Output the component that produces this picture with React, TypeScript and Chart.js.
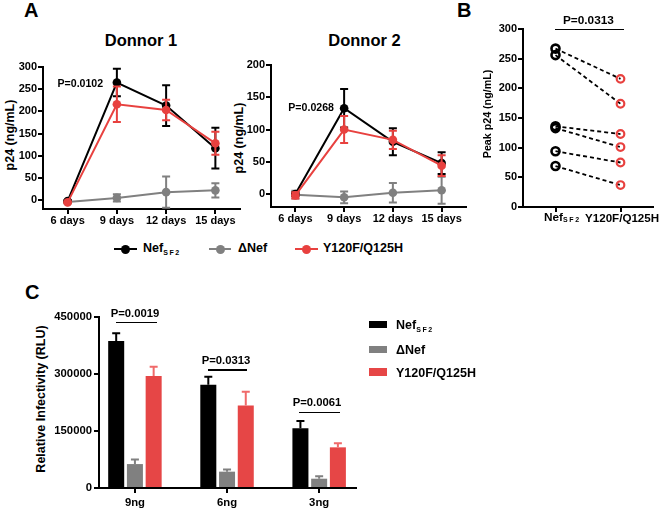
import React, { useEffect, useRef } from 'react';
import { Chart, registerables } from 'chart.js';

Chart.register(...registerables);

// ---------- Data ----------
const DAYS = ['6 days', '9 days', '12 days', '15 days'];
const D1_Y_TICKS = [0, 50, 100, 150, 200, 250, 300];
const D2_Y_TICKS = [0, 50, 100, 150, 200];

const D1_NEF = [-2, 265, 213, 117];
const D1_NEF_ERR = [2, 31, 46, 46];
const D1_DNEF = [-4, 5, 18, 22];
const D1_DNEF_ERR = [3, 8, 35, 16];
const D1_MUT = [-5, 216, 203, 128];
const D1_MUT_ERR = [2, 40, 23, 26];

const D2_NEF = [0, 133, 81, 48];
const D2_NEF_ERR = [3, 30, 21, 17];
const D2_DNEF = [-1, -5, 2, 6];
const D2_DNEF_ERR = [6, 9, 15, 21];
const D2_MUT = [-2, 100, 84, 44];
const D2_MUT_ERR = [5, 21, 14, 16];

const B_CATS = ['Nef', 'Y120F/Q125H'];
const B_NEF = [267, 256, 136, 133, 94, 69];
const B_MUT = [216, 174, 123, 101, 75, 37];
const B_Y_TICKS = [0, 50, 100, 150, 200, 250, 300];

const C_CATS = ['9ng', '6ng', '3ng'];
const C_NEF = [387000, 272000, 157000];
const C_NEF_ERR = [20000, 21000, 19000];
const C_DNEF = [63000, 43000, 24500];
const C_DNEF_ERR = [12000, 6000, 6500];
const C_MUT = [295000, 217000, 107000];
const C_MUT_ERR = [24000, 36000, 10500];
const C_Y_TICKS = [0, 150000, 300000, 450000];

// ---------- Styles ----------
const FONT = "'Liberation Sans', Arial, Helvetica, sans-serif";
const BLACK = '#000000';
const GRAY = '#808080';
const RED = '#e8413f';
const RED_BAR = '#e64646';
const RED_ERR = '#f06a6a';

const errPlugin = {
  id: 'errbars',
  afterDatasetDraw(chart: any, args: any) {
    const ds = chart.data.datasets[args.index] as any;
    if (!ds.errors) return;
    const ys = chart.scales.y;
    const ctx = chart.ctx;
    ctx.save();
    ctx.strokeStyle = ds.errColor || ds.borderColor;
    ctx.lineWidth = ds.errWidth ?? 2;
    args.meta.data.forEach((el: any, i: number) => {
      const raw = ds.data[i];
      const v = typeof raw === 'number' ? raw : raw.y;
      const e = ds.errors[i];
      const x = el.x;
      const top = ys.getPixelForValue(v + e);
      const bot = ds.errDir === 'up' ? ys.getPixelForValue(v) : ys.getPixelForValue(v - e);
      const hw = ds.capHalf ?? 4;
      ctx.beginPath();
      ctx.moveTo(x, top);
      ctx.lineTo(x, bot);
      ctx.moveTo(x - hw, top);
      ctx.lineTo(x + hw, top);
      if (ds.errDir !== 'up') {
        ctx.moveTo(x - hw, bot);
        ctx.lineTo(x + hw, bot);
      }
      ctx.stroke();
    });
    ctx.restore();
  },
};

function yAxis(min: number, max: number, ticks: number[], w: number, fs: number, pad: number) {
  return {
    type: 'linear',
    min,
    max,
    afterBuildTicks: (s: any) => {
      s.ticks = ticks.map((v) => ({ value: v }));
    },
    afterFit: (s: any) => {
      s.width = w;
      s.paddingTop = 0;
      s.paddingBottom = 0;
    },
    grid: {
      display: true,
      drawOnChartArea: false,
      drawTicks: true,
      tickLength: 5,
      tickWidth: 2,
      tickColor: BLACK,
      color: BLACK,
      lineWidth: 2,
    },
    border: { display: true, color: BLACK, width: 2 },
    ticks: {
      color: BLACK,
      padding: pad,
      autoSkip: false,
      font: { family: FONT, size: fs, weight: 'bold' },
      callback: (v: any) => String(v),
    },
  };
}

function xAxisBase(h: number, fs: number, pad: number, display: boolean) {
  return {
    afterFit: (s: any) => {
      s.height = h;
      s.paddingLeft = 0;
      s.paddingRight = 0;
    },
    grid: {
      display: true,
      drawOnChartArea: false,
      drawTicks: true,
      tickLength: 5,
      tickWidth: 2,
      tickColor: BLACK,
      color: BLACK,
      lineWidth: 2,
      offset: false,
    },
    border: { display: true, color: BLACK, width: 2 },
    ticks: {
      display,
      color: BLACK,
      padding: pad,
      autoSkip: false,
      maxRotation: 0,
      minRotation: 0,
      font: { family: FONT, size: fs, weight: 'bold' },
    },
  };
}

function lineDs(data: number[], err: number[], color: string) {
  return {
    data,
    errors: err,
    errColor: color,
    borderColor: color,
    backgroundColor: color,
    borderWidth: 2,
    pointRadius: 4.3,
    pointBorderWidth: 0,
    pointBackgroundColor: color,
    tension: 0,
    clip: false,
  };
}

function baseOptions(padT: number, padR: number) {
  return {
    responsive: false,
    animation: false,
    devicePixelRatio: 1,
    events: [],
    layout: { padding: { top: padT, right: padR, left: 0, bottom: 0 } },
    plugins: { legend: { display: false }, tooltip: { enabled: false }, title: { display: false } },
  };
}

function donorConfig(nef: number[], nefE: number[], dnef: number[], dnefE: number[], mut: number[], mutE: number[], yMax: number, yTicks: number[]) {
  return {
    type: 'line',
    data: {
      labels: DAYS,
      datasets: [lineDs(mut, mutE, RED), lineDs(nef, nefE, BLACK), lineDs(dnef, dnefE, GRAY)],
    },
    options: {
      ...baseOptions(10, 15),
      scales: {
        x: { type: 'category', offset: true, ...xAxisBase(25, 11, 0, true) },
        y: yAxis(-20, yMax, yTicks, 40, 11, 1),
      },
    },
    plugins: [errPlugin],
  };
}

function bConfig() {
  const datasets = B_NEF.map((v, i) => ({
    data: [v, B_MUT[i]],
    borderColor: BLACK,
    borderWidth: 1.8,
    borderDash: [4, 3],
    pointRadius: [4, 3.8],
    pointBorderWidth: [2.6, 2.2],
    pointBorderColor: [BLACK, RED],
    pointBackgroundColor: 'rgba(0,0,0,0)',
    tension: 0,
    clip: false,
  }));
  return {
    type: 'line',
    data: { labels: B_CATS, datasets },
    options: {
      ...baseOptions(10, 7),
      scales: {
        x: { type: 'category', offset: true, ...xAxisBase(20, 11, 0, false) },
        y: yAxis(0, 300, B_Y_TICKS, 40, 11, 1),
      },
    },
  };
}

function barDs(vals: number[], err: number[], color: string, errColor: string) {
  return {
    data: vals.map((v, i) => ({ x: i, y: v })),
    errors: err,
    errDir: 'up',
    errColor,
    capHalf: 4,
    backgroundColor: color,
    borderWidth: 0,
    categoryPercentage: 0.61,
    barPercentage: 0.855,
  };
}

function cConfig() {
  return {
    type: 'bar',
    data: {
      datasets: [
        barDs(C_NEF, C_NEF_ERR, BLACK, BLACK),
        barDs(C_DNEF, C_DNEF_ERR, GRAY, GRAY),
        barDs(C_MUT, C_MUT_ERR, RED_BAR, RED_ERR),
      ],
    },
    options: {
      ...baseOptions(10, 10),
      scales: {
        x: {
          type: 'linear',
          min: -0.39,
          max: 2.4,
          offset: false,
          afterBuildTicks: (s: any) => {
            s.ticks = C_CATS.map((_, i) => ({ value: i }));
          },
          ...(() => {
            const b: any = xAxisBase(23, 11.3, 3, true);
            b.ticks.callback = (v: any) => C_CATS[Math.round(Number(v))] ?? '';
            return b;
          })(),
        },
        y: yAxis(0, 450000, C_Y_TICKS, 55, 11.3, 2),
      },
    },
    plugins: [errPlugin],
  };
}

function ChartBox({ left, top, width, height, make }: { left: number; top: number; width: number; height: number; make: () => any }) {
  const ref = useRef<HTMLCanvasElement | null>(null);
  useEffect(() => {
    if (!ref.current) return;
    const chart = new Chart(ref.current, make() as any);
    return () => chart.destroy();
  }, []);
  return (
    <canvas
      ref={ref}
      width={width}
      height={height}
      style={{ position: 'absolute', left, top, width, height }}
    />
  );
}

type TP = {
  x: number;
  y: number;
  fs: number;
  align?: 'left' | 'center';
  rot?: boolean;
  children: React.ReactNode;
};

function T({ x, y, fs, align = 'left', rot = false, children }: TP) {
  const style: React.CSSProperties = {
    position: 'absolute',
    fontSize: fs,
    lineHeight: `${fs}px`,
    whiteSpace: 'nowrap',
    left: x,
    top: y - fs / 2,
  };
  if (rot) {
    style.top = y;
    style.transform = 'translate(-50%, -50%) rotate(-90deg)';
  } else if (align === 'center') {
    style.transform = 'translateX(-50%)';
  }
  return <div style={style}>{children}</div>;
}

function Sub({ children, dy }: { children: React.ReactNode; dy: number }) {
  return (
    <span style={{ fontSize: 7, letterSpacing: 1.6, position: 'relative', top: dy }}>{children}</span>
  );
}

function HLine({ x1, x2, y }: { x1: number; x2: number; y: number }) {
  return (
    <div style={{ position: 'absolute', left: x1, top: y - 0.75, width: x2 - x1, height: 1.5, background: BLACK }} />
  );
}

function LegLine({ x1, x2, y, color }: { x1: number; x2: number; y: number; color: string }) {
  const cx = (x1 + x2) / 2;
  return (
    <>
      <div style={{ position: 'absolute', left: x1, top: y - 1, width: x2 - x1, height: 2, background: color }} />
      <div style={{ position: 'absolute', left: cx - 4.5, top: y - 4.5, width: 9, height: 9, borderRadius: '50%', background: color }} />
    </>
  );
}

function LegRect({ x, y, color }: { x: number; y: number; color: string }) {
  return <div style={{ position: 'absolute', left: x, top: y, width: 18, height: 7.5, background: color }} />;
}

export default function App() {
  return (
    <div
      style={{
        position: 'absolute',
        left: 0,
        top: 0,
        width: 660,
        height: 511,
        overflow: 'hidden',
        background: '#ffffff',
        fontFamily: FONT,
        fontWeight: 'bold',
        color: BLACK,
      }}
    >
      {/* Panel A */}
      <T x={24} y={10.3} fs={20}>A</T>
      <T x={141} y={40} fs={16.5} align="center">Donnor 1</T>
      <T x={364.5} y={40} fs={16.5} align="center">Donnor 2</T>
      <T x={10} y={135} fs={12.5} rot>p24 (ng/mL)</T>
      <T x={239} y={138} fs={12.5} rot>p24 (ng/mL)</T>
      <ChartBox
        left={3}
        top={57}
        width={252}
        height={177}
        make={() => donorConfig(D1_NEF, D1_NEF_ERR, D1_DNEF, D1_DNEF_ERR, D1_MUT, D1_MUT_ERR, 300, D1_Y_TICKS)}
      />
      <ChartBox
        left={231}
        top={55}
        width={250}
        height={177}
        make={() => donorConfig(D2_NEF, D2_NEF_ERR, D2_DNEF, D2_DNEF_ERR, D2_MUT, D2_MUT_ERR, 200, D2_Y_TICKS)}
      />
      <T x={57.5} y={83.3} fs={10.6}>P=0.0102</T>
      <T x={288.3} y={107} fs={10.6}>P=0.0268</T>

      <LegLine x1={114} x2={137} y={249} color={BLACK} />
      <T x={143} y={248.6} fs={12.5}>
        Nef<Sub dy={3}>SF2</Sub>
      </T>
      <LegLine x1={209} x2={231} y={249} color={GRAY} />
      <T x={238} y={248.6} fs={12.5}>ΔNef</T>
      <LegLine x1={295} x2={318} y={249} color={RED} />
      <T x={323} y={248.6} fs={12.5}>Y120F/Q125H</T>

      {/* Panel B */}
      <T x={457} y={10} fs={20}>B</T>
      <T x={487} y={114} fs={10.7} rot>Peak p24 (ng/mL)</T>
      <ChartBox left={483} top={19} width={177} height={208} make={bConfig} />
      <T x={563} y={20.5} fs={11.8}>P=0.0313</T>
      <HLine x1={555} x2={624} y={29.3} />
      <T x={544} y={218} fs={11.8}>
        {B_CATS[0]}<Sub dy={1}>SF2</Sub>
      </T>
      <T x={585} y={218} fs={11.6}>{B_CATS[1]}</T>

      {/* Panel C */}
      <T x={25} y={292} fs={20}>C</T>
      <T x={40.5} y={398.5} fs={12.5} rot>Relative Infectivity (RLU)</T>
      <ChartBox left={44} top={307} width={322} height={204} make={cConfig} />
      <T x={110.7} y={313.7} fs={11.3}>P=0.0019</T>
      <HLine x1={116} x2={156.7} y={322.7} />
      <T x={201.7} y={360.3} fs={11.3}>P=0.0313</T>
      <HLine x1={207.7} x2={247.3} y={370} />
      <T x={292.7} y={403} fs={11.3}>P=0.0061</T>
      <HLine x1={299.3} x2={340} y={412.3} />

      <LegRect x={369.3} y={320.7} color={BLACK} />
      <T x={396} y={325} fs={12.5}>
        Nef<Sub dy={3}>SF2</Sub>
      </T>
      <LegRect x={369.3} y={345.7} color={GRAY} />
      <T x={396} y={350} fs={12.5}>ΔNef</T>
      <LegRect x={369.3} y={368.3} color={RED_BAR} />
      <T x={396} y={372.8} fs={12.5}>Y120F/Q125H</T>
    </div>
  );
}
